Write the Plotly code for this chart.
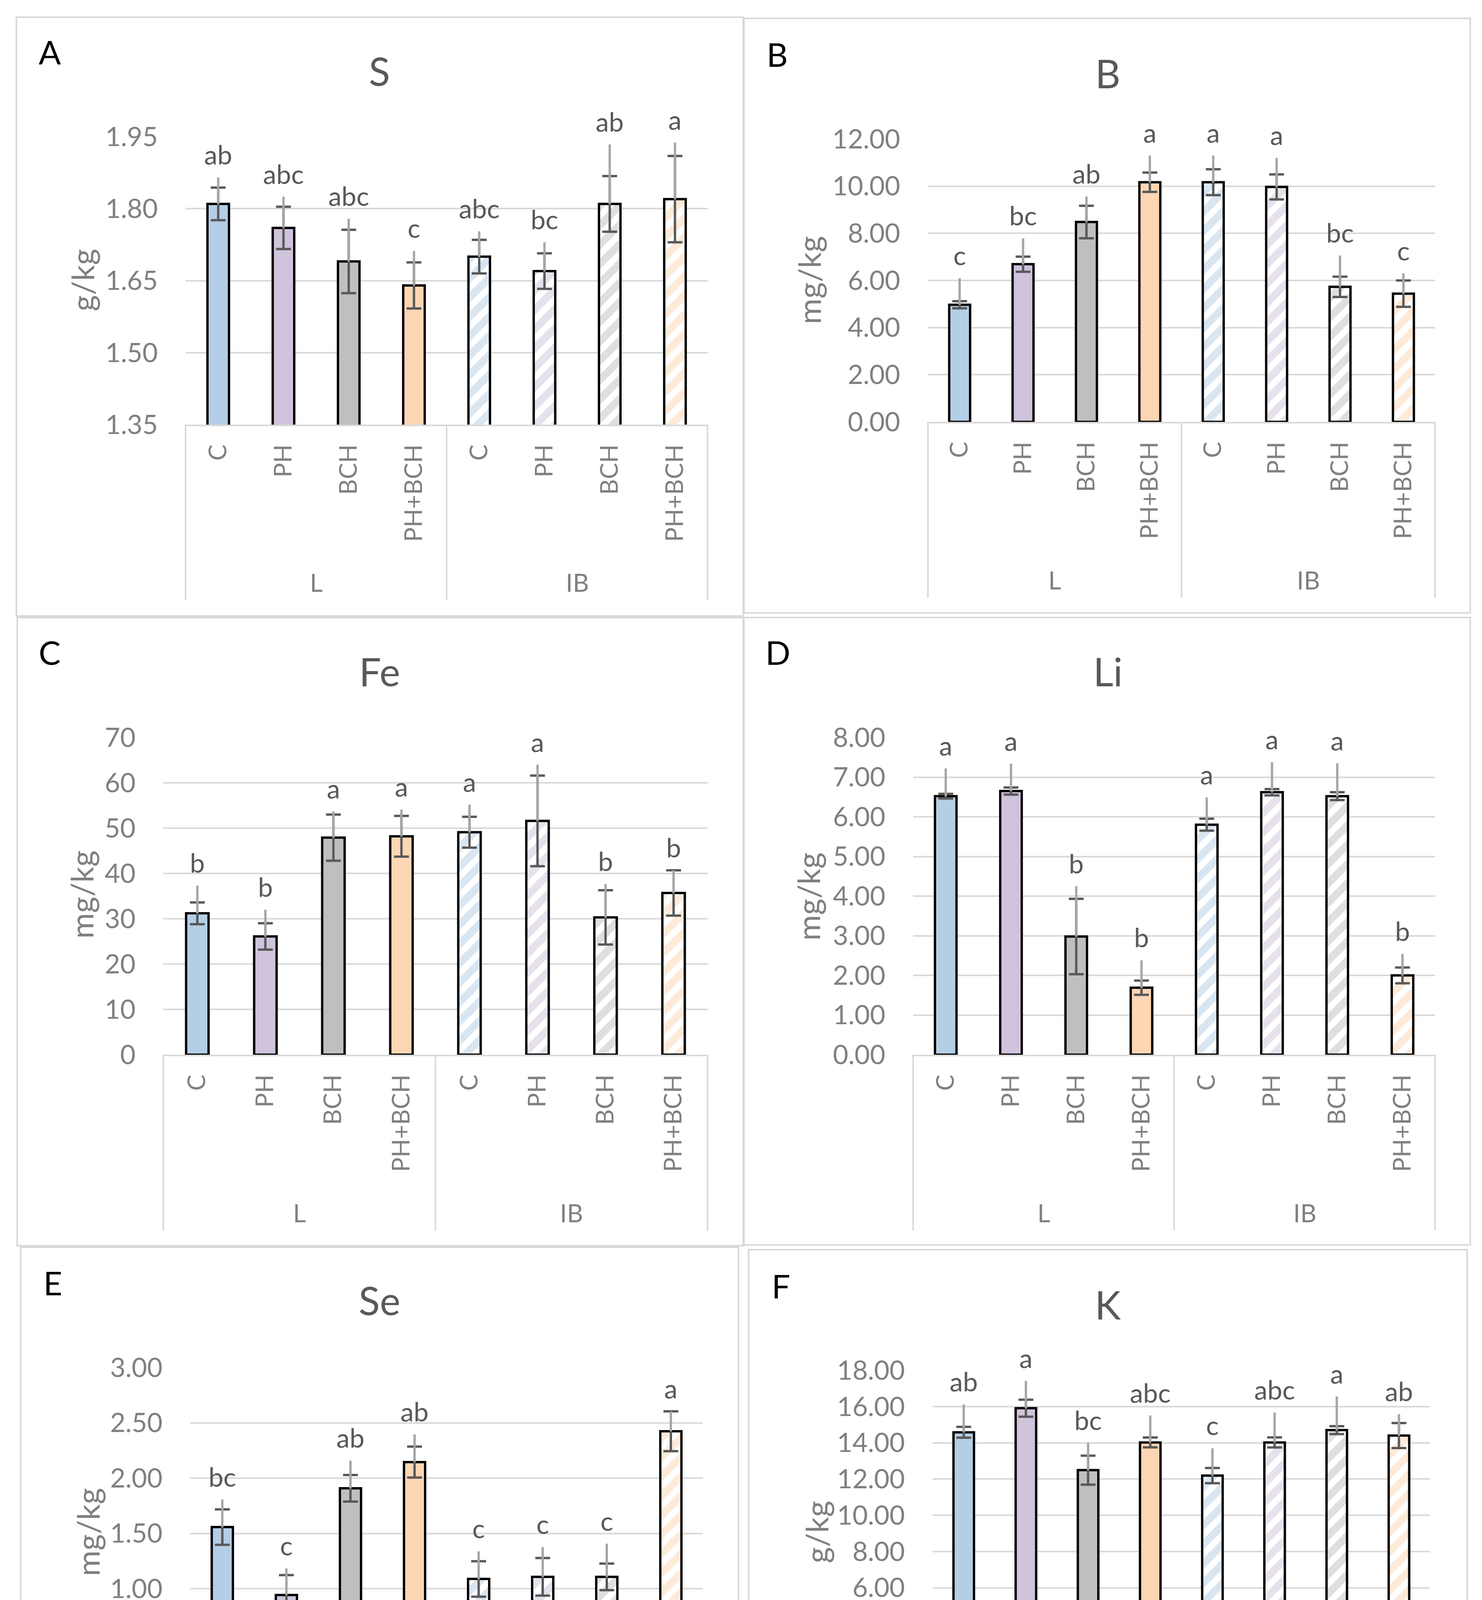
import plotly.graph_objects as go

FONT = "Lato"
W, H = 3793, 4873

# categories
groups = ["L"] * 4 + ["IB"] * 4
treatments = ["C", "PH", "BCH", "PH+BCH"] * 2
colors = ["#B4CEE6", "#D0C3DC", "#BFBFBF", "#FDD6B4"]
keys = [g + " " + t for g, t in zip(groups, treatments)]

# S (g/kg)
s_mean = [1.81, 1.76, 1.69, 1.64, 1.70, 1.67, 1.81, 1.82]
s_se = [0.034, 0.044, 0.066, 0.048, 0.035, 0.037, 0.058, 0.090]
s_up = [0.055, 0.065, 0.089, 0.072, 0.053, 0.060, 0.124, 0.118]
s_letters = ["ab", "abc", "abc", "c", "abc", "bc", "ab", "a"]

# B (mg/kg)
b_mean = [4.97, 6.69, 8.48, 10.17, 10.17, 9.97, 5.73, 5.44]
b_se = [0.15, 0.32, 0.69, 0.41, 0.55, 0.53, 0.43, 0.56]
b_up = [1.13, 1.10, 1.08, 1.13, 1.13, 1.23, 1.33, 0.86]
b_letters = ["c", "bc", "ab", "a", "a", "a", "bc", "c"]

# Fe (mg/kg)
fe_mean = [31.2, 26.1, 47.9, 48.2, 49.1, 51.6, 30.3, 35.7]
fe_se = [2.4, 2.9, 5.1, 4.5, 3.4, 10.0, 6.0, 5.0]
fe_up = [6.1, 5.9, 5.8, 5.9, 6.1, 12.4, 7.4, 5.0]
fe_letters = ["b", "b", "a", "a", "a", "a", "b", "b"]

# Li (mg/kg)
li_mean = [6.52, 6.65, 2.98, 1.69, 5.80, 6.62, 6.52, 2.00]
li_se = [0.06, 0.09, 0.95, 0.18, 0.15, 0.08, 0.10, 0.20]
li_up = [0.70, 0.69, 1.27, 0.69, 0.69, 0.76, 0.83, 0.54]
li_letters = ["a", "a", "b", "b", "a", "a", "a", "b"]

# Se (mg/kg)
se_mean = [1.557, 0.943, 1.908, 2.145, 1.088, 1.107, 1.107, 2.424]
se_se = [0.16, 0.18, 0.12, 0.14, 0.16, 0.17, 0.12, 0.18]
se_up = [0.25, 0.24, 0.25, 0.25, 0.25, 0.27, 0.30, 0.18]
se_letters = ["bc", "c", "ab", "ab", "c", "c", "c", "a"]

# K (g/kg)
k_mean = [14.58, 15.91, 12.49, 14.02, 12.19, 14.02, 14.70, 14.40]
k_se = [0.30, 0.47, 0.80, 0.27, 0.42, 0.28, 0.22, 0.69]
k_up = [1.54, 1.51, 1.51, 1.49, 1.51, 1.65, 1.86, 1.18]
k_letters = ["ab", "a", "bc", "abc", "c", "abc", "a", "ab"]

panels = [
    dict(tag="A", name="S", unit="g/kg", mean=s_mean, se=s_se, up=s_up, letters=s_letters,
         rng=[1.35, 1.95], dtick=0.15, fmt=".2f",
         plot=(467, 1803, 342, 1079), box=(34, 36, 1894, 1569), divbot=1528,
         title=(963, 173), lab=(119, 124), ytitle=(202, 709)),
    dict(tag="B", name="B", unit="mg/kg", mean=b_mean, se=b_se, up=b_up, letters=b_letters,
         rng=[0, 12], dtick=2, fmt=".2f",
         plot=(2367, 3665, 348, 1072), box=(1896, 39, 3755, 1561), divbot=1522,
         title=(2827, 179), lab=(1981, 131), ytitle=(2062, 709)),
    dict(tag="C", name="Fe", unit="mg/kg", mean=fe_mean, se=fe_se, up=fe_up, letters=fe_letters,
         rng=[0, 70], dtick=10, fmt="d",
         plot=(410, 1803, 1880, 2692), box=(36, 1573, 1894, 3181), divbot=3142,
         title=(963, 1710), lab=(119, 1661), ytitle=(200, 2282)),
    dict(tag="D", name="Li", unit="mg/kg", mean=li_mean, se=li_se, up=li_up, letters=li_letters,
         rng=[0, 8], dtick=1, fmt=".2f",
         plot=(2329, 3665, 1880, 2692), box=(1896, 1573, 3755, 3179), divbot=3142,
         title=(2827, 1710), lab=(1983, 1661), ytitle=(2060, 2287)),
    dict(tag="E", name="Se", unit="mg/kg", mean=se_mean, se=se_se, up=se_up, letters=se_letters,
         rng=[0, 3], dtick=0.5, fmt=".2f",
         plot=(479, 1791, 3493, 4342), box=(45, 3185, 1882, 4834), divbot=4792,
         title=(963, 3320), lab=(127, 3275), ytitle=(216, 3914)),
    dict(tag="F", name="K", unit="g/kg", mean=k_mean, se=k_se, up=k_up, letters=k_letters,
         rng=[0, 18], dtick=2, fmt=".2f",
         plot=(2379, 3652, 3500, 4335), box=(1908, 3191, 3747, 4829), divbot=4786,
         title=(2827, 3331), lab=(1991, 3283), ytitle=(2081, 3914)),
]

fig = go.Figure()
shapes = []
annotations = []
GRID = "#D9D9D9"
BAR_W = 0.33


def note(text, x, y, size, color, angle=0):
    return dict(text=text, xref="paper", yref="paper", x=x / W, y=1 - y / H,
                xanchor="center", yanchor="middle", showarrow=False, textangle=angle,
                font=dict(family=FONT, size=size, color=color))


for i, p in enumerate(panels):
    n = "" if i == 0 else str(i + 1)
    xa, ya = "x" + n, "y" + n
    l, r, t, b = p["plot"]

    # L: solid fills
    fig.add_trace(go.Bar(
        x=keys[:4], y=p["mean"][:4], width=BAR_W,
        marker=dict(color=colors, line=dict(color="black", width=6)),
        error_y=dict(type="data", array=p["se"][:4], color="#595959", thickness=6, width=19),
        xaxis=xa, yaxis=ya, showlegend=False, hoverinfo="skip",
    ))
    # IB: hatched fills
    fig.add_trace(go.Bar(
        x=keys[4:], y=p["mean"][4:], width=BAR_W,
        marker=dict(color="white", line=dict(color="black", width=6),
                    pattern=dict(shape="/", fgcolor=colors, bgcolor="white",
                                 size=35, solidity=0.55)),
        error_y=dict(type="data", array=p["se"][4:], color="#595959", thickness=6, width=19),
        xaxis=xa, yaxis=ya, showlegend=False, hoverinfo="skip",
    ))
    # upper whisker (no cap)
    fig.add_trace(go.Scatter(
        x=keys, y=p["mean"], mode="markers",
        marker=dict(size=1, color="rgba(0,0,0,0)"),
        error_y=dict(type="data", symmetric=False, array=p["up"], arrayminus=[0] * 8,
                     color="#A6A6A6", thickness=6, width=0),
        xaxis=xa, yaxis=ya, showlegend=False, hoverinfo="skip",
    ))
    # significance letters
    fig.add_trace(go.Scatter(
        x=keys, y=[m + u for m, u in zip(p["mean"], p["up"])],
        mode="markers+text", text=p["letters"], textposition="top center",
        marker=dict(size=24, color="rgba(0,0,0,0)"),
        textfont=dict(family=FONT, size=68, color="#595959"),
        cliponaxis=False, xaxis=xa, yaxis=ya, showlegend=False, hoverinfo="skip",
    ))

    fig.layout["xaxis" + n] = dict(
        domain=[l / W, r / W], anchor=ya, type="category", automargin=False,
        categoryorder="array", categoryarray=keys, tickvals=keys, ticktext=treatments,
        showline=True, linecolor=GRID, linewidth=4, showgrid=False, ticks="",
        tickangle=-90, tickfont=dict(family=FONT, size=62, color="#808080"),
        ticklabelstandoff=22,
    )
    fig.layout["yaxis" + n] = dict(
        domain=[1 - b / H, 1 - t / H], anchor=xa, range=p["rng"], dtick=p["dtick"],
        tick0=p["rng"][0], tickformat=p["fmt"], showgrid=True, gridcolor=GRID,
        gridwidth=4, zeroline=False, showline=False, ticks="", automargin=False,
        tickfont=dict(family=FONT, size=68, color="#808080"), ticklabelstandoff=70,
    )

    # group dividers under the category axis
    mid = (l + r) / 2
    for xv in (l, mid, r):
        shapes.append(dict(type="line", xref="paper", yref="paper",
                           x0=xv / W, x1=xv / W, y0=1 - b / H, y1=1 - p["divbot"] / H,
                           line=dict(color=GRID, width=4)))
    # group labels
    annotations.append(note("L", (l + mid) / 2, b + 404, 64, "#808080"))
    annotations.append(note("IB", (mid + r) / 2, b + 404, 64, "#808080"))

    # panel frame
    bl, bt, br, bb = p["box"]
    shapes.append(dict(type="rect", xref="paper", yref="paper",
                       x0=bl / W, x1=br / W, y0=1 - bb / H, y1=1 - bt / H,
                       line=dict(color=GRID, width=4)))

    annotations.append(note(p["name"], *p["title"], 100, "#595959"))
    annotations.append(note(p["tag"], *p["lab"], 84, "black"))
    annotations.append(note(p["unit"], *p["ytitle"], 80, "#7F7F7F", angle=-90))

fig.update_layout(
    width=W, height=H, margin=dict(l=0, r=0, t=0, b=0, autoexpand=False),
    paper_bgcolor="white", plot_bgcolor="white", barmode="overlay",
    font=dict(family=FONT, color="#808080"),
    shapes=shapes, annotations=annotations,
)

fig.write_html("out.html")
